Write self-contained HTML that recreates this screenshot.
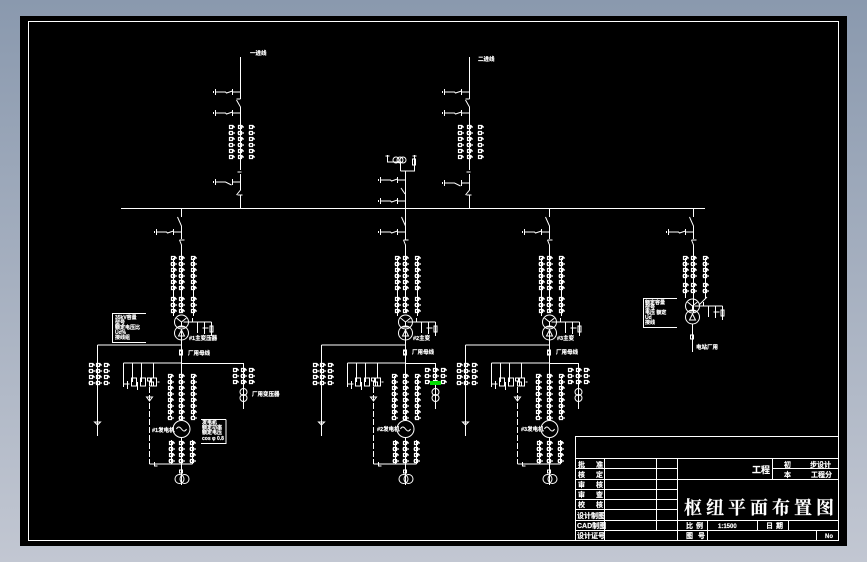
<!DOCTYPE html>
<html><head><meta charset="utf-8"><style>
html,body{margin:0;padding:0;width:867px;height:562px;overflow:hidden;background:linear-gradient(180deg,#8a99ae 0%,#c2c7d2 100%)}
svg{position:absolute;left:0;top:0}
text{fill:#fff;font-family:"Liberation Sans","Noto Sans CJK SC",sans-serif;font-weight:700;stroke:#fff;stroke-width:.15}
.l{stroke:#fff;stroke-width:1;fill:none}
.s{font-size:5.500px}.m{font-size:8px}.n{font-size:5px}
</style></head><body>
<svg width="867" height="562" viewBox="0 0 867 562">
<defs>
<g id="c" class="l"><path d="M-2-1.500h3v3h-3zM1 0h2.500M1-1h1.500" stroke-width="1.200"/></g>
<g id="cr" class="l"><path d="M-2-1.500h3v3h-3zM1 0h2.500M-3 0h1" stroke-width="1.200"/></g>
<g id="e" class="l"><path d="M0 0H-8M-8-3V3M-8-1-14 1-15 0H-25M-25-3V3M-27-1V1"/></g>
<g id="e2" class="l"><path d="M0 0H-8M-8-3V3M-9 3-15 0H-25M-25-3V3M-27-1V1"/></g>
<g id="col6"><use href="#c" y="0"/><use href="#cr" y="6"/><use href="#c" y="12"/><use href="#cr" y="18"/><use href="#c" y="24"/><use href="#c" y="30"/></g>
<g id="col3"><use href="#c" y="0"/><use href="#cr" y="6"/><use href="#c" y="12"/></g>
<g id="col2"><use href="#c" y="0"/><use href="#cr" y="6"/></g>
<g id="col4"><use href="#c" y="0"/><use href="#cr" y="6"/><use href="#c" y="12"/><use href="#cr" y="18"/></g>
<g id="col8"><use href="#c" y="0"/><use href="#cr" y="6"/><use href="#c" y="12"/><use href="#cr" y="18"/><use href="#c" y="24"/><use href="#cr" y="30"/><use href="#c" y="36"/><use href="#cr" y="42"/></g>
<g id="inc" class="l">
<path d="M0 0V9M-4 9 0 18V31M-2 32H3M-2 32 0 37V105"/>
<use href="#e" y="24"/>
</g>
<g id="cts"><path class="l" d="M-8 50V108M12 50V108"/>
<use href="#col6" x="-8" y="50"/><use href="#col6" x="0" y="50"/><use href="#col6" x="12" y="50"/>
<use href="#col3" x="-8" y="91"/><use href="#col3" x="0" y="91"/><use href="#col3" x="12" y="91"/></g>
<g id="cts4"><path class="l" d="M-8 50V90M12 50V90"/>
<use href="#col4" x="-8" y="50"/><use href="#col4" x="0" y="50"/><use href="#col4" x="12" y="50"/>
<use href="#col2" x="-8" y="77"/><use href="#col2" x="0" y="77"/><use href="#col2" x="12" y="77"/></g>
<g id="xf" class="l">
<circle cx="0" cy="0" r="7"/><circle cx="0" cy="11" r="7"/>
<path d="M-5-4 0 0 5-4M0 0V4M-3 14H3L0 8ZM-4 5H4"/>
<path d="M2 0H30M11-4V0M16 0V11M23 0V12M21 6H27M30 0V14M28.500 4h3v6h-3z"/>
<path d="M0 18V43"/><path d="M-2 29h3v4h-3z"/>
</g>
<g id="gen" class="l">
<path d="M0 137V228M0 246V293"/>
<path d="M-84 153H0M-84 153V244M-58 171H0M-58 171V190"/>
<path d="M-49 171V178M-40 171V178M-28 171V178"/>
<path d="M-58 180V195M-52 192H-58M-49 178V190M-54 189V197M-45 186h-5v8h5zM-40 178V190M-44 190V198M-36 186h-5v8h5zM-34 186h3v3h-3zM-28 178V186M-28 190h-4v4h4zM-25 186h-5v8h5zM-24 190h2"/>
<path d="M-32 195V272" stroke-dasharray="6 2"/>
<path d="M-32 272H11"/>
<path d="M-35 205H-29L-32 209Z"/>
<path d="M-87 230h6l-3 3z"/>
<path d="M-11 184V224M12 184V224M-10 248V272M11 248V272"/>
<circle cx="0" cy="237" r="8.500"/><path d="M-5 237q2-4 5 0t5 0"/>
<path d="M-2 158h3v4h-3z"/>
<circle cx="-2" cy="287" r="4.500"/><circle cx="3" cy="287" r="4.500"/>
<path d="M-2 278h3v3h-3zM-27 270v4h3"/>
</g>
<g id="genct"><use href="#col8" x="-11" y="184"/><use href="#col8" x="0" y="184"/><use href="#col8" x="12" y="184"/>
<use href="#col4" x="-10" y="251"/><use href="#col4" x="0" y="251"/><use href="#col4" x="11" y="251"/>
<use href="#col4" x="-90" y="173"/><use href="#col4" x="-83" y="173"/><use href="#col4" x="-75" y="173"/></g>
<g id="aux" class="l"><path d="M0 0V46"/><use href="#col3" x="-8" y="7"/><use href="#col3" x="0" y="7"/><use href="#col3" x="8" y="7"/>
<circle cx="0" cy="29" r="3.500"/><circle cx="0" cy="35" r="3.500"/></g>
</defs>

<rect x="20" y="16" width="827" height="530" fill="#000"/>
<rect x="28.500" y="21.500" width="810" height="519" class="l"/>
<path class="l" d="M121 208.500H705"/>

<!-- top incomer 1 -->
<g transform="translate(240.500 0)" class="l">
<path d="M0 57V99M-4 99H0M-4 100 0 107V170M-3 172H1M0 174V190L-4 195M-3 195H2M0 195V208"/>
<use href="#e" y="92"/><use href="#e" y="113"/><use href="#e2" y="182"/>
<use href="#col6" x="-9" y="127"/><use href="#col6" x="0" y="127"/><use href="#col6" x="11" y="127"/>
</g>
<g transform="translate(469.500 0)" class="l">
<path d="M0 57V99M-4 99H0M-4 100 0 107V170M-3 172H1M0 174V190L-4 195M-3 195H2M0 195V208"/>
<use href="#e" y="92"/><use href="#e" y="113"/><use href="#e2" y="183"/>
<use href="#col6" x="-9" y="127"/><use href="#col6" x="0" y="127"/><use href="#col6" x="11" y="127"/>
</g>
<text x="250" y="55" class="s">一进线</text>
<text x="478" y="61" class="s">二进线</text>

<!-- PT -->
<g class="l">
<path d="M405.500 171V240M400.500 171V162H387.500V155M400.500 171H414.500V155M412.500 159h3v6h-3z"/>
<circle cx="396" cy="160" r="3"/><circle cx="400" cy="160" r="3"/><circle cx="403" cy="160" r="3"/>
<path d="M385.500 156H389.500M412.500 156H416.500M401 188 405 194"/>
</g>
<g transform="translate(405.500 0)"><use href="#e" y="180"/><use href="#e" y="201"/></g>

<!-- outgoing units -->
<g transform="translate(181.500 208)"><use href="#inc"/><use href="#cts"/></g>
<g transform="translate(405.500 208)"><use href="#inc"/><use href="#cts"/></g>
<g transform="translate(549.500 208)"><use href="#inc"/><use href="#cts"/></g>
<g transform="translate(693.500 208)"><use href="#inc"/><use href="#cts4"/></g>

<g transform="translate(181.500 322)"><use href="#xf"/></g>
<g transform="translate(405.500 322)"><use href="#xf"/></g>
<g transform="translate(549.500 322)"><use href="#xf"/></g>
<g transform="translate(692.500 306)"><use href="#xf"/></g>
<path class="l" d="M707 297 699 305M692.500 349V352"/>

<g transform="translate(181.500 192)"><use href="#gen"/><use href="#genct"/></g>
<g transform="translate(405.500 192)"><use href="#gen"/><use href="#genct"/></g>
<g transform="translate(549.500 192)"><use href="#gen"/><use href="#genct"/></g>

<!-- bus extensions and aux branches -->
<path class="l" d="M181 363.500H243.500M405 363.500H435.500M549 363.500H578.500"/>
<g transform="translate(243.500 363)"><use href="#aux"/></g>
<g transform="translate(435.500 363)"><use href="#aux"/></g>
<g transform="translate(578.500 363)"><use href="#aux"/></g>
<rect x="430" y="381" width="11" height="4" fill="#0d0"/>

<!-- note boxes -->
<path class="l" d="M146 313.500H112.500V342.500H146M226 419.500V443.500H201M226 419.500H201M677 298.500H643.500V327.500H677"/>
<g class="n">
<text x="115" y="319">35kV容量</text><text x="115" y="324">型号</text><text x="115" y="329">额定电压比</text><text x="115" y="334">Ud%</text><text x="115" y="339">接线组</text>
<text x="645" y="304">额定容量</text><text x="645" y="309">型号</text><text x="645" y="314">电压 额定</text><text x="645" y="319">Ud</text><text x="645" y="324">接线</text>
<text x="202" y="424">发电机</text><text x="202" y="429">额定功率</text><text x="202" y="434">额定电压</text><text x="202" y="440">cos φ 0.8</text>
</g>
<g class="s">
<text x="188" y="355">厂用母线</text><text x="412" y="354">厂用母线</text><text x="556" y="354">厂用母线</text>
<text x="189" y="340">#1主变压器</text>
<text x="413" y="340">#2主变</text><text x="557" y="340">#3主变</text>
<text x="252" y="396">厂用变压器</text>
<text x="152" y="432">#1发电机</text><text x="377" y="431">#2发电机</text><text x="521" y="431">#3发电机</text>
<text x="696" y="349">电站厂用</text>
</g>

<!-- title block -->
<g class="l">
<rect x="575.500" y="436.500" width="263" height="104"/>
<path d="M575 458.500H838M575 468.500H677M677 479.500H838M772 468.500H838M575 479.500H677M575 489.500H677M575 499.500H677M575 509.500H677M575 520.500H838M575 530.500H838"/>
<path d="M604.500 458V540M656.500 458V530M677.500 458V540M772.500 458V479M707.500 520V540M757.500 520V530M788.500 520V530M816.500 530V540"/>
</g>
<g class="m" style="font-size:7px">
<text x="578" y="467">批</text><text x="596" y="467">准</text>
<text x="578" y="477">核</text><text x="596" y="477">定</text>
<text x="578" y="487">审</text><text x="596" y="487">核</text>
<text x="578" y="497">审</text><text x="596" y="497">查</text>
<text x="578" y="507">校</text><text x="596" y="507">核</text>
<text x="577" y="518">设计制图</text>
<text x="577" y="528">CAD制图</text>
<text x="577" y="538">设计证号</text>
<text x="752" y="473" style="font-size:9px">工程</text>
<text x="784" y="467">初</text><text x="810" y="467">步设计</text>
<text x="784" y="477">本</text><text x="811" y="477">工程分</text>
<text x="686" y="528">比</text><text x="696" y="528">例</text>
<text x="718" y="528" style="font-size:6px">1:1500</text>
<text x="766" y="528">日</text><text x="776" y="528">期</text>
<text x="686" y="538">图</text><text x="698" y="538">号</text>
<text x="825" y="538" style="font-size:6px">No</text>
</g>
<text x="684" y="514" style="font-size:18px;letter-spacing:4px;font-weight:700;font-family:'Liberation Serif','Noto Serif CJK SC',serif">枢纽平面布置图</text>
</svg>
</body></html>
